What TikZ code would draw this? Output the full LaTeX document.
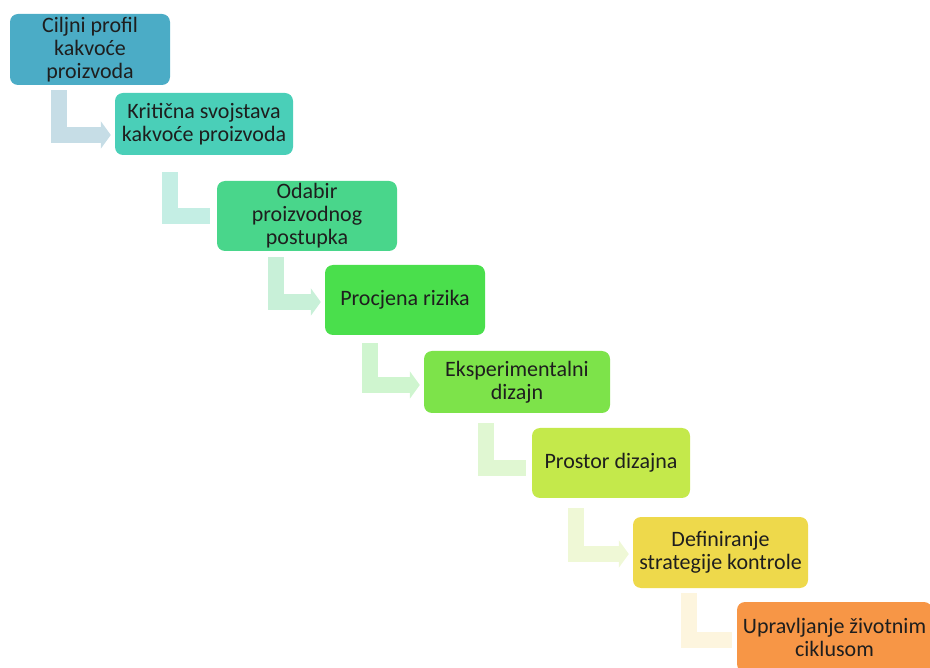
\documentclass[tikz,border=0pt]{standalone}
\usepackage{fontspec}
\setmainfont{Carlito}
\usetikzlibrary{arrows.meta}

\definecolor{box1}{HTML}{4BACC6}
\definecolor{box2}{HTML}{4ACFB8}
\definecolor{box3}{HTML}{49D68B}
\definecolor{box4}{HTML}{4ADF4C}
\definecolor{box5}{HTML}{7DE34A}
\definecolor{box6}{HTML}{C4E94B}
\definecolor{box7}{HTML}{EED94B}
\definecolor{box8}{HTML}{F79646}
\definecolor{arr1}{HTML}{C6DDE6}
\definecolor{arr2}{HTML}{C4EEE4}
\definecolor{arr3}{HTML}{C8F0D8}
\definecolor{arr4}{HTML}{CFF5CF}
\definecolor{arr5}{HTML}{E0F7D2}
\definecolor{arr6}{HTML}{EFF8D6}
\definecolor{arr7}{HTML}{FDF5DE}
\definecolor{txt}{HTML}{1E1E1E}

\tikzset{
  stepbox/.style={rectangle, rounded corners=8pt, align=center, text=txt,
    inner sep=2pt, font=\fontsize{22}{23}\selectfont},
  steparrow/.style={line width=16pt, line join=miter,
    -{Triangle[width=27pt,length=10pt]}},
  stepband/.style={line width=16pt, line join=miter}
}

\begin{document}
\begin{tikzpicture}[x=1pt,y=-1pt]
    \useasboundingbox (0,0) rectangle (930,668);
    \clip (0,0) rectangle (930,668);

    % steps
    \node[stepbox, fill=box1, minimum width=160pt, minimum height=71pt] (ciljni) at (90,49.5) {Ciljni profil\\kakvoće\\proizvoda};
    \node[stepbox, fill=box2, minimum width=178pt, minimum height=62pt] (kriticna) at (204,124) {Kritična svojstava\\kakvoće proizvoda};
    \node[stepbox, fill=box3, minimum width=180pt, minimum height=70pt] (odabir) at (307,216) {Odabir\\proizvodnog\\postupka};
    \node[stepbox, fill=box4, minimum width=160pt, minimum height=70pt] (rizik) at (405,300) {Procjena rizika};
    \node[stepbox, fill=box5, minimum width=186pt, minimum height=62pt] (eksp) at (517,382) {Eksperimentalni\\dizajn};
    \node[stepbox, fill=box6, minimum width=158pt, minimum height=70pt] (prostor) at (611,463) {Prostor dizajna};
    \node[stepbox, fill=box7, minimum width=175pt, minimum height=71pt] (strategija) at (720.5,552.5) {Definiranje\\strategije kontrole};
    \node[stepbox, fill=box8, minimum width=195pt, minimum height=70pt] (ciklus) at (834.5,637) {Upravljanje životnim\\ciklusom};

    % L-arrows between steps
    \draw[steparrow, arr1] ([yshift=-5pt]ciljni.south -| 59,0) |- ([xshift=-4pt,yshift=-11pt]kriticna.west);
    \draw[stepband, arr2] ([yshift=-17pt]kriticna.south -| 170,0) |- ([xshift=-7pt]odabir.west);
    \draw[steparrow, arr3] ([yshift=-6pt]odabir.south -| 276,0) |- ([xshift=-4pt,yshift=-2pt]rizik.west);
    \draw[steparrow, arr4] ([yshift=-8pt]rizik.south -| 370,0) |- ([xshift=-4pt,yshift=-3pt]eksp.west);
    \draw[stepband, arr5] ([yshift=-10pt]eksp.south -| 486,0) |- ([xshift=-6pt,yshift=-5pt]prostor.west);
    \draw[steparrow, arr6] ([yshift=-10pt]prostor.south -| 576,0) |- ([xshift=-4pt,yshift=-1.5pt]strategija.west);
    \draw[stepband, arr7] ([yshift=-5pt]strategija.south -| 689,0) |- ([xshift=-5pt,yshift=-3pt]ciklus.west);
\end{tikzpicture}
\end{document}
